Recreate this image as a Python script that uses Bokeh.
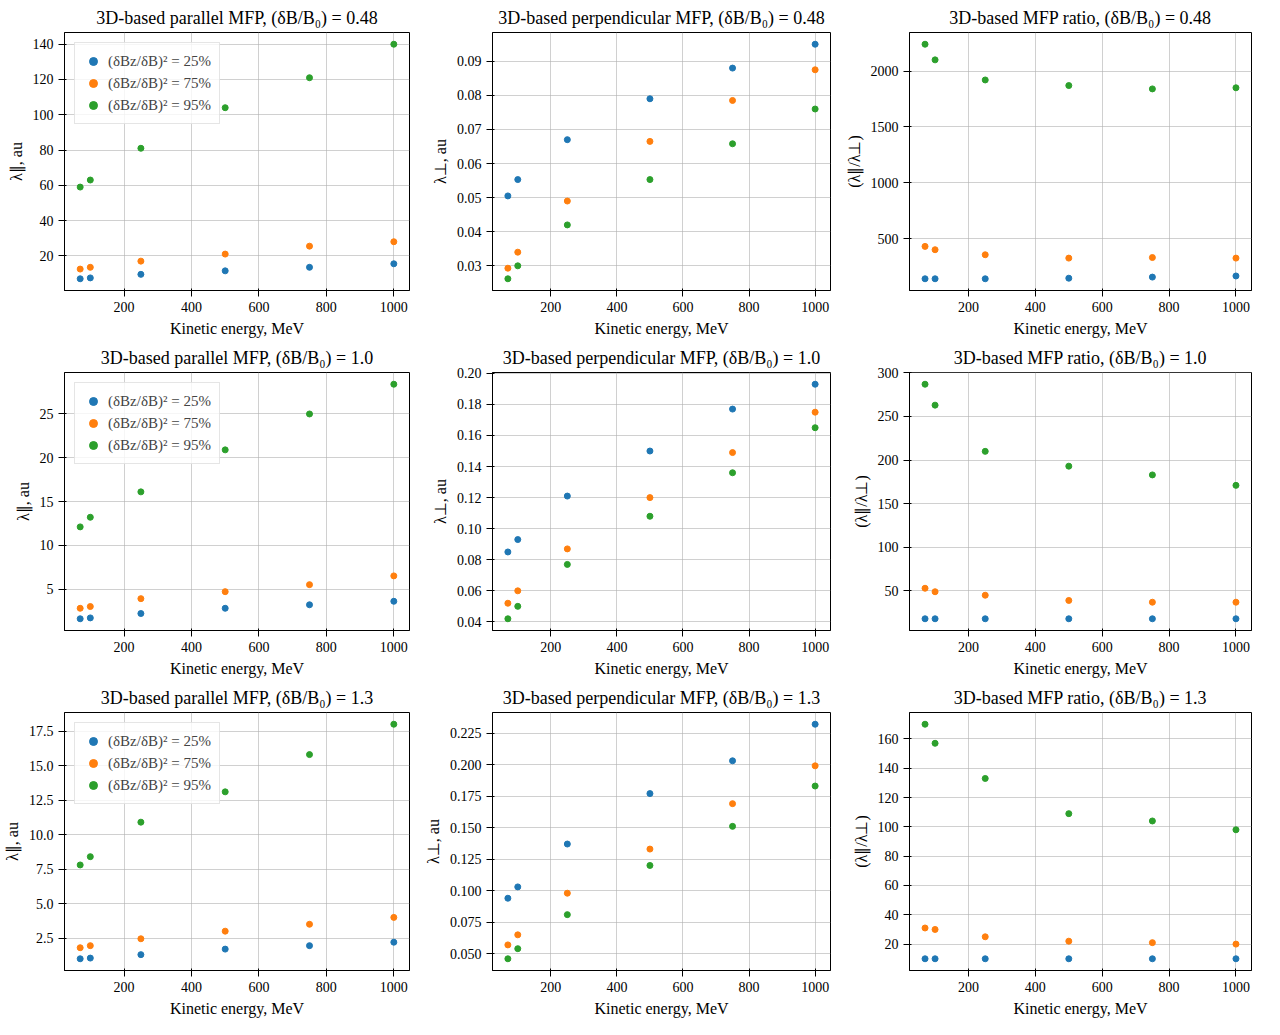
from bokeh.plotting import figure
from bokeh.layouts import gridplot
from bokeh.models import FixedTicker, PrintfTickFormatter, Range1d, Legend, LegendItem
from bokeh.embed import file_html
from bokeh.resources import INLINE

energy = [70, 100, 250, 500, 750, 1000]
levels = ["0.48", "1.0", "1.3"]
series_labels = ["(δBz/δB)² = 25%", "(δBz/δB)² = 75%", "(δBz/δB)² = 95%"]
colors = ["#1f77b4", "#ff7f0e", "#2ca02c"]

par = [
    [[7, 7.5, 9.5, 11.5, 13.5, 15.5], [12.5, 13.5, 17, 21, 25.5, 28], [59, 63, 81, 104, 121, 140]],
    [[1.6, 1.7, 2.2, 2.8, 3.2, 3.6], [2.8, 3.0, 3.9, 4.7, 5.5, 6.5], [12.1, 13.2, 16.1, 20.9, 25, 28.4]],
    [[1.0, 1.05, 1.3, 1.7, 1.95, 2.2], [1.8, 1.95, 2.45, 3.0, 3.5, 4.0], [7.8, 8.4, 10.9, 13.1, 15.8, 18.0]],
]
perp = [
    [[.0505, .0553, .067, .079, .088, .095], [.0293, .034, .049, .0665, .0785, .0875], [.0262, .030, .042, .0553, .0658, .076]],
    [[.085, .093, .121, .150, .177, .193], [.052, .060, .087, .120, .149, .175], [.042, .050, .077, .108, .136, .165]],
    [[.094, .103, .137, .177, .203, .232], [.057, .065, .098, .133, .169, .199], [.046, .054, .081, .120, .151, .183]],
]
ratio = [
    [[140, 140, 140, 145, 155, 165], [430, 400, 355, 325, 330, 325], [2240, 2100, 1920, 1870, 1840, 1850]],
    [[18, 18, 18, 18, 18, 18], [53, 49, 45, 39, 37, 37], [287, 263, 210, 193, 183, 171]],
    [[10, 10, 10, 10, 10, 10], [31, 30, 25, 22, 21, 20], [170, 157, 133, 109, 104, 98]],
]

yticks = {
    (0, 0): ([20, 40, 60, 80, 100, 120, 140], "%d"),
    (0, 1): ([0.03, 0.04, 0.05, 0.06, 0.07, 0.08, 0.09], "%.2f"),
    (0, 2): ([500, 1000, 1500, 2000], "%d"),
    (1, 0): ([5, 10, 15, 20, 25], "%d"),
    (1, 1): ([0.04, 0.06, 0.08, 0.10, 0.12, 0.14, 0.16, 0.18, 0.20], "%.2f"),
    (1, 2): ([50, 100, 150, 200, 250, 300], "%d"),
    (2, 0): ([2.5, 5.0, 7.5, 10.0, 12.5, 15.0, 17.5], "%.1f"),
    (2, 1): ([0.05, 0.075, 0.1, 0.125, 0.15, 0.175, 0.2, 0.225], "%.3f"),
    (2, 2): ([20, 40, 60, 80, 100, 120, 140, 160], "%d"),
}
titles = ["3D-based parallel MFP, (δB/B₀) = ", "3D-based perpendicular MFP, (δB/B₀) = ", "3D-based MFP ratio, (δB/B₀) = "]
ylabels = ["λ∥, au", "λ⊥, au", "(λ∥/λ⊥)"]
FONT = "Liberation Serif"

rows = []
for r in range(3):
    row = []
    for c, data in enumerate([par, perp, ratio]):
        d = data[r]
        allv = [v for s in d for v in s]
        lo, hi = min(allv), max(allv)
        pad = (hi - lo) * 0.05
        p = figure(width=421, height=340, output_backend="svg", toolbar_location=None,
                   x_range=Range1d(23.5, 1046.5), y_range=Range1d(lo - pad, hi + pad),
                   min_border_left=64, min_border_right=12, min_border_top=32, min_border_bottom=50)
        p.title.text = titles[c] + levels[r]
        p.title.align = "center"
        p.title.text_font = FONT
        p.title.text_font_size = "18px"
        p.title.text_font_style = "normal"
        p.title.text_color = "black"
        renderers = []
        for k in range(3):
            g = p.scatter(energy, d[k], size=6, color=colors[k])
            renderers.append(g)
        if c == 0:
            leg = Legend(items=[LegendItem(label=series_labels[k], renderers=[renderers[k]]) for k in range(3)],
                         location="top_left", label_text_font=FONT, label_text_font_size="15px",
                         border_line_color="#cccccc", background_fill_alpha=0.8, spacing=2, padding=8)
            p.add_layout(leg)
        p.xaxis.ticker = FixedTicker(ticks=[200, 400, 600, 800, 1000])
        t, f = yticks[(r, c)]
        p.yaxis.ticker = FixedTicker(ticks=t)
        p.yaxis.formatter = PrintfTickFormatter(format=f)
        p.xaxis.axis_label = "Kinetic energy, MeV"
        p.yaxis.axis_label = ylabels[c]
        for ax in (p.xaxis, p.yaxis):
            ax.axis_label_text_font = FONT
            ax.axis_label_text_font_size = "16px"
            ax.axis_label_text_font_style = "normal"
            ax.axis_label_text_color = "black"
            ax.major_label_text_font = FONT
            ax.major_label_text_font_size = "14px"
            ax.major_label_text_color = "black"
            ax.minor_tick_line_color = None
            ax.axis_line_color = "black"
            ax.major_tick_line_color = "black"
        p.grid.grid_line_color = "#b0b0b0"
        p.grid.grid_line_alpha = 0.6
        p.outline_line_color = "black"
        p.outline_line_alpha = 1
        row.append(p)
    rows.append(row)

grid = gridplot(rows, toolbar_location=None)
open("out.html", "w").write(file_html(grid, INLINE))
